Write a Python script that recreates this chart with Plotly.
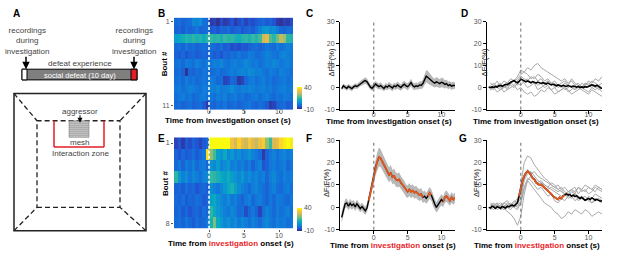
import numpy as np
import plotly.graph_objects as go

# ---------------- data ----------------
hm_time = np.arange(-4.75, 12.0, 0.5)        # heatmap bin centres (s), 34 bins
trace_time = np.arange(-4.75, 12.01, 0.25)   # mean traces, 68 samples
indiv_time = np.arange(-4.5, 12.01, 0.5)     # individual bouts, 34 samples

# Heatmap B (no-defeat, 11 bouts); each row: 10 pre-onset bins + 24 post-onset bins
heat_B = [
    [-2,-1,-3,-2,-1,3,2,4,-1,-2,  -8,-7,-9,-6,-8,-7,-5,-8,-6,-4, -7,-5,-6,-4,-3,-2,-4,-3,-5,-8, -9,-7,-8,-6],
    [-3,-2,-4,-1,-3,-2,0,-3,-2,-1, -4,-3,-5,-2,-3,-1,-4,-3,-2,-5, -3,-2,-4,-1,2,5,6,3,4,1, -2,-3,-1,-2],
    [8,9,11,13,12,14,12,13,11,14,  15,13,14,12,15,13,14,12,11,13, 14,12,15,13,16,27,29,17,14,19, 26,23,14,13],
    [-2,-1,-3,0,-2,-1,-3,-2,-1,-2, -1,-2,-3,-1,-4,-3,-6,-5,-6,-4, -5,-3,-2,-1,-3,-2,0,-1,-2,1, -1,0,2,1],
    [-3,-4,-2,-5,-3,-2,-4,-3,-2,-3, -2,-4,-3,-5,-2,-3,-1,-2,0,-2, -1,1,0,-2,-1,0,2,1,0,-1, 2,3,1,0],
    [-1,0,-2,1,0,-1,2,0,-1,1,     0,2,1,3,0,-1,1,2,0,1, 3,2,0,1,-1,0,2,1,3,2, 0,1,2,0],
    [-2,-1,-3,-9,-2,-3,-1,-2,0,-1, -2,-1,0,-2,-1,0,1,0,2,3, 2,4,3,1,2,0,-1,1,0,-1, 2,1,0,-1],
    [-1,0,-2,1,-1,0,-2,-1,0,-1,   1,0,-2,-1,-7,-6,-2,-3,-8,-7, -2,0,1,-1,0,2,-1,0,-2,-1, 0,1,-1,0],
    [0,1,-1,0,2,1,0,-1,1,0,       2,1,3,0,1,2,4,1,0,2, 1,3,2,0,1,2,0,1,-1,0, 1,2,0,1],
    [-1,0,1,-1,0,-2,-1,0,1,-1,    0,-1,1,0,2,-1,0,1,-1,0, -2,-1,0,1,-1,0,1,-1,-2,0, -1,1,0,-1],
    [-2,-1,-3,-2,-1,-3,-2,-1,-4,-8, -2,-3,-1,-2,0,-3,-2,-1,-3,-2, -1,0,-2,-3,-1,-2,-4,-8,-7,-3, -2,-1,-4,-3],
]
# Heatmap E (defeat, 8 bouts)
heat_E = [
    [-7,-5,-8,-4,-6,-3,-5,-7,-4,-2, 40,40,40,40,40,40,32,28,35,30, 27,33,29,26,31,34,22,15,28,30, 36,38,40,38],
    [-3,-5,-2,-4,-3,-1,-4,-2,0,36,  22,16,8,5,10,3,6,2,4,1, 3,5,2,0,-2,-8,-3,0,2,-1, 1,3,0,2],
    [-2,0,-3,1,-1,2,-2,0,1,-3,      5,3,7,2,4,6,1,3,0,2, -1,1,-3,0,2,-5,-3,0,1,-1, 0,2,-2,0],
    [14,6,2,4,0,3,1,-1,2,3,         15,14,12,10,8,11,7,5,3,6, 2,4,1,3,0,2,-2,1,3,0, -1,2,0,1],
    [-3,-2,-4,-1,-3,-2,-5,-3,-2,-4, 4,2,0,3,6,10,12,8,4,2, 0,-2,1,3,0,-1,-3,0,2,-1, -2,0,1,-1],
    [-2,-3,-1,-4,-2,-3,-1,-2,-4,-3, 8,10,5,3,1,4,0,2,-1,-3, 0,2,-2,0,1,-1,-3,0,-2,1, 0,-1,-2,0],
    [-3,-1,-4,-2,-5,-3,-2,-4,-1,-3, 14,10,6,4,2,0,3,1,-2,-1, -6,-2,0,-3,-7,-1,2,0,-2,1, -1,0,2,-1],
    [-2,-1,-3,0,-2,-4,-1,-3,-2,0,   12,20,10,6,3,5,2,4,0,3, 1,-1,2,0,-2,1,3,0,-1,2, 0,1,-1,0],
]
bout_ticks_B = [1, 11]
bout_ticks_E = [1, 8]

# C: mean +/- SEM (no defeat)
C_mean = [-0.5,0.8,0.2,-0.3, 0.5,0.0,-0.5,0.3, 0.8,0.5,1.2,1.8, 2.2,2.8,3.2,2.6,
          1.5,0.2,-0.3,0.8, 1.6,1.0,0.4,0.9, 0.3,-0.4,0.6,0.2, 1.0,0.3,-0.2,0.8,
          0.4,1.2,0.5,0.0, 0.9,1.5,0.8,0.4, 1.2,2.3,0.9,0.3, 0.8,0.5,1.2,1.0,
          1.8,3.5,5.2,4.6, 3.8,3.0,2.5,2.0, 2.6,2.2,1.8,2.4, 2.1,1.4,1.8,0.9, 1.3,0.6,1.0,0.8]
C_sem = [1.0,1.1,1.0,1.2, 1.1,1.0,1.2,1.1, 1.2,1.1,1.3,1.2, 1.3,1.4,1.5,1.4,
         1.3,1.2,1.3,1.5, 1.4,1.3,1.4,1.5, 1.4,1.3,1.5,1.4, 1.5,1.4,1.5,1.4,
         1.5,1.6,1.5,1.4, 1.5,1.6,1.5,1.6, 1.6,1.7,1.6,1.5, 1.6,1.5,1.7,1.8,
         2.0,2.4,2.8,2.9, 2.6,2.3,2.1,2.0, 2.2,2.1,2.0,2.2, 2.1,1.9,1.8,1.7, 1.6,1.7,1.6,1.5]

# D: individual animals + mean (no defeat)
D_mean = [0.2,0.0,0.3,0.1, 0.5,0.2,0.8,1.0, 0.6,1.2,1.5,1.3, 2.0,2.4,2.8,3.2,
          2.6,2.2,2.8,3.8, 3.5,3.0,2.6,3.0, 2.4,2.2,2.7,2.3, 2.0,2.5,2.2,1.9,
          2.2,1.8,1.6,2.0, 1.5,1.2,1.6,1.0, 0.8,1.2,0.9,0.6, 1.0,0.7,0.5,0.9,
          0.6,0.3,0.7,0.4, 0.2,0.5,0.1,0.3, 0.0,0.4,0.2,0.5, 0.8,1.2,1.0,0.6, 1.1,0.4,0.0,-0.5]
D_bouts = [
    [-1,0,1,2,0,1,2,3,4,6,  7,9,8,10,11,9,8,7,6,5, 4,3,4,2,3,1,2,0,1,2, 1,0,1,0],
    [1,2,0,1,3,2,4,3,5,8,   7,6,4,5,3,4,2,3,1,2, 0,1,-1,0,1,-1,0,2,1,3, 2,4,3,5],
    [0,-1,1,0,-2,-1,0,1,-1,0, -2,-3,-2,-4,-3,-1,-2,0,-1,-3, -2,-1,0,-2,-1,1,0,-1,-2,-3, -1,-2,-3,-4],
    [2,1,3,0,1,-1,2,3,1,4,  2,0,1,2,-1,0,1,3,2,0, 1,2,3,1,4,2,1,0,2,1, 0,1,-1,0],
    [-1,0,-2,-1,1,0,2,1,3,5, 4,3,5,4,6,5,3,4,2,3, 1,0,2,1,0,-1,1,0,2,1, 3,2,1,2],
    [0,1,0,-1,0,2,1,0,2,1,  3,4,2,3,1,2,0,1,-1,0, -2,-1,0,-1,-3,-2,-1,0,-1,-2, 0,-1,0,-2],
]

# F: mean +/- SEM (after defeat), significant segments in orange
F_mean = [-4.5,-1.0,1.5,2.0, 0.5,1.8,0.8,1.5, 0.2,1.6,0.5,-0.5, 0.4,-0.8,-1.5,-0.2,
          3.0,6.5,10.0,14.0, 18.0,20.5,22.5,22.0, 20.5,19.0,17.5,16.0, 14.5,15.5,13.5,14.0,
          12.5,12.0,12.5,11.0, 10.0,9.0,7.5,7.0, 8.0,7.0,7.5,6.5, 7.0,6.0,5.5,6.0,
          4.5,5.0,4.0,5.0, 6.5,5.5,3.0,1.5, 0.0,1.0,2.5,3.5, 2.5,4.5,5.0,4.0, 3.0,4.5,3.5,4.5]
F_sem = [2.5,2.2,2.0,2.0, 1.8,2.0,1.9,1.8, 1.8,1.9,1.8,1.7, 1.7,1.8,1.8,1.9,
         2.2,2.6,3.0,3.5, 3.8,4.0,4.2,4.0, 3.8,3.6,3.5,3.4, 3.3,3.4,3.2,3.3,
         3.2,3.1,3.2,3.0, 3.0,2.9,2.8,2.8, 2.9,2.8,2.8,2.7, 2.7,2.6,2.6,2.6,
         2.5,2.5,2.4,2.5, 2.6,2.5,2.4,2.4, 2.3,2.4,2.4,2.5, 2.4,2.5,2.5,2.4, 2.3,2.4,2.3,2.3]
F_sig = [(-0.75, 7.25), (8.0, 8.5), (10.25, 12.0)]

# G: individual animals + mean (after defeat)
G_mean = [0.0,-0.3,0.5,0.2, -0.5,0.3,0.0,-0.4, 0.4,0.1,-0.3,0.5, 0.2,0.8,1.0,0.6,
          1.5,2.0,5.0,9.0, 12.0,14.0,15.5,16.0, 15.5,14.5,13.0,12.5, 11.0,10.5,10.0,10.2,
          9.5,9.0,8.0,7.5, 6.5,6.0,5.0,4.5, 4.0,3.5,4.5,4.0, 5.0,5.5,6.0,5.5,
          5.8,5.0,5.5,4.8, 5.2,4.5,4.0,4.5, 3.8,3.2,3.5,4.0, 3.5,4.2,3.8,3.2, 3.6,3.0,2.8,3.0]
G_bouts = [
    [0,1,-1,0,2,1,0,1,3,10,  20,23,22,19,17,15,13,12,10,9, 8,7,6,5,7,6,5,4,3,5, 4,6,5,4],
    [1,0,2,-1,0,-2,-3,-5,-8,-4, 6,12,14,12,10,11,9,8,9,8, 7,8,6,7,8,6,9,7,8,6, 7,9,8,7],
    [0,-1,1,0,-1,0,1,0,-1,2, 8,12,10,8,6,4,2,1,0,-2, -3,-5,-4,-2,-3,-1,-2,-3,-1,-2, -4,-3,-2,-3],
    [1,2,0,1,0,2,1,3,2,4,    14,17,15,16,14,13,12,11,10,9, 10,8,9,7,8,9,6,8,7,9, 8,7,9,8],
    [-1,0,1,2,1,0,-1,1,0,3,  12,15,16,14,12,11,10,9,8,7, 6,5,6,4,5,3,4,5,3,4, 2,3,4,3],
    [2,1,0,1,2,3,1,2,4,6,    13,16,14,13,11,12,10,9,11,10, 8,9,7,6,8,7,9,8,10,9, 8,10,9,8],
    [0,1,2,0,-1,1,2,0,1,2,   9,13,12,10,8,9,7,5,6,3, 2,4,3,5,4,6,3,4,5,3, 2,4,3,2],
]
G_sig = [(-0.25, 6.5)]

x_ticks = [0, 5, 10]
y_ticks = [-10, 0, 10, 20, 30]
cbar_ticks = [-10, 40]

for row in heat_B + heat_E:
    assert len(row) == len(hm_time), len(row)
for arr in (C_mean, C_sem, D_mean, F_mean, F_sem, G_mean):
    assert len(arr) == len(trace_time), len(arr)
for row in D_bouts + G_bouts:
    assert len(row) == len(indiv_time), len(row)

# ---------------- styling ----------------
W, H = 617, 260
def X(p):
    return p / W
def Y(p):
    return 1 - p / H

FONT = "Liberation Sans, Arial, sans-serif"
TICKC = "#555555"
TXT = "#444444"
RED = "#e8262b"
ORANGE = "#e2571e"
GRAYLINE = "#a9a9a9"
parula = [[0.0, "#352a87"], [6/63, "#2053d4"], [13/63, "#1079da"], [19/63, "#0c93d2"],
          [25/63, "#07a9c2"], [32/63, "#38b99e"], [38/63, "#7cbf7b"], [44/63, "#b7bd64"],
          [50/63, "#e9b94e"], [57/63, "#f9d329"], [1.0, "#f9fb0e"]]

fig = go.Figure()

def heat(z, ax, cb_top, cb_bot):
    nrows = len(z)
    fig.add_trace(go.Heatmap(
        x=hm_time, y=list(range(1, nrows + 1)), z=z, xaxis=ax[0], yaxis=ax[1],
        colorscale=parula, zmin=-10, zmax=40,
        colorbar=dict(x=X(297), xanchor="left", y=Y((cb_top + cb_bot) / 2), yanchor="middle",
                      lenmode="pixels", len=cb_bot - cb_top, thickness=5, thicknessmode="pixels",
                      xpad=0, ypad=0, outlinewidth=0, ticks="",
                      tickvals=cbar_ticks, ticktext=[str(v) for v in cbar_ticks],
                      tickfont=dict(size=7, color=TICKC, family=FONT)),
        hoverinfo="skip"))

heat(heat_B, ("x", "y"), 86, 108)
heat(heat_E, ("x2", "y2"), 210, 233)

def band(mean, sem, ax):
    m = np.array(mean); s = np.array(sem)
    xs = np.concatenate([trace_time, trace_time[::-1]])
    ys = np.concatenate([m + s, (m - s)[::-1]])
    fig.add_trace(go.Scatter(x=xs, y=ys, fill="toself", fillcolor="#b8b8b8", line=dict(width=0),
                             mode="lines", xaxis=ax[0], yaxis=ax[1], hoverinfo="skip"))

def line(x, y, ax, color, width):
    fig.add_trace(go.Scatter(x=x, y=y, mode="lines", line=dict(color=color, width=width),
                             xaxis=ax[0], yaxis=ax[1], hoverinfo="skip"))

def sig_overlay(mean, segs, ax):
    t = trace_time
    mask = np.zeros(len(t), dtype=bool)
    for a, b in segs:
        mask |= (t >= a - 1e-9) & (t <= b + 1e-9)
    y = [v if k else None for v, k in zip(mean, mask)]
    line(t, y, ax, ORANGE, 1.8)

# C
band(C_mean, C_sem, ("x3", "y3"))
line(trace_time, C_mean, ("x3", "y3"), "black", 1.4)
# D
for b in D_bouts:
    line(indiv_time, b, ("x4", "y4"), GRAYLINE, 1.0)
line(trace_time, D_mean, ("x4", "y4"), "black", 1.6)
# F
band(F_mean, F_sem, ("x5", "y5"))
line(trace_time, F_mean, ("x5", "y5"), "black", 1.4)
sig_overlay(F_mean, F_sig, ("x5", "y5"))
# G
for b in G_bouts:
    line(indiv_time, b, ("x6", "y6"), GRAYLINE, 1.0)
line(trace_time, G_mean, ("x6", "y6"), "black", 1.6)
sig_overlay(G_mean, G_sig, ("x6", "y6"))

# ---------------- axes ----------------
tickfont = dict(size=7, color=TICKC, family=FONT)
def hm_axes(n, xdom, ydom, yticks, nrows, standoff):
    sx = "" if n == 1 else str(n)
    xa = dict(domain=xdom, range=[-5, 12], anchor="y" + sx, tickvals=x_ticks, ticks="outside",
              ticklen=2, tickcolor="#555", showline=False, showgrid=False, zeroline=False,
              tickfont=tickfont, fixedrange=True, ticklabelstandoff=standoff)
    ya = dict(domain=ydom, range=[nrows + 0.5, 0.5], anchor="x" + sx, tickvals=yticks, ticks="outside",
              ticklen=2, tickcolor="#555", showline=False, showgrid=False, zeroline=False,
              tickfont=tickfont, fixedrange=True)
    return xa, ya

def ln_axes(n, xdom, ydom, standoff):
    sx = str(n)
    common = dict(ticks="outside", ticklen=3, tickwidth=1, tickcolor="black", showline=True,
                  linecolor="black", linewidth=1, showgrid=False, zeroline=False,
                  tickfont=tickfont, fixedrange=True)
    xa = dict(domain=xdom, range=[-5, 12], anchor="y" + sx, tickvals=x_ticks,
              ticklabelstandoff=standoff, **common)
    ya = dict(domain=ydom, range=[-10, 30], anchor="x" + sx, tickvals=y_ticks,
              ticktext=[str(v) for v in y_ticks], **common)
    return xa, ya

xB, yB = hm_axes(1, [X(174), X(293)], [Y(109), Y(14)], bout_ticks_B, len(heat_B), -7)
xE, yE = hm_axes(2, [X(174), X(293)], [Y(231), Y(137)], bout_ticks_E, len(heat_E), -2)
xC, yC = ln_axes(3, [X(340), X(455)], [Y(108.5), Y(18)], -5)
xD, yD = ln_axes(4, [X(487), X(602)], [Y(108.5), Y(18)], -5)
xF, yF = ln_axes(5, [X(340), X(455)], [Y(232), Y(140)], -2)
xG, yG = ln_axes(6, [X(487), X(602)], [Y(232), Y(140)], -2)

shapes = []
# white dashed onset lines on heatmaps
for ax in ("x", "x2"):
    yref = ("y" if ax == "x" else "y2") + " domain"
    shapes.append(dict(type="line", xref=ax, yref=yref, x0=0, x1=0, y0=0, y1=1,
                       line=dict(color="white", width=1.5, dash="3px,2px")))
# dotted onset lines on trace plots
for n in (3, 4, 5, 6):
    shapes.append(dict(type="line", xref="x%d" % n, yref="y%d domain" % n, x0=0, x1=0, y0=0, y1=1,
                       line=dict(color="#666666", width=1, dash="dot")))

def rect(x0, y0, x1, y1, **kw):
    shapes.append(dict(type="rect", xref="paper", yref="paper", x0=X(x0), x1=X(x1),
                       y0=Y(y1), y1=Y(y0), **kw))
def seg(x0, y0, x1, y1, **kw):
    shapes.append(dict(type="line", xref="paper", yref="paper", x0=X(x0), x1=X(x1),
                       y0=Y(y0), y1=Y(y1), **kw))

# panel A: timeline bar
rect(22, 67, 137, 78, fillcolor="#7f7f7f", line=dict(color="black", width=1))
rect(22, 67, 27, 78, fillcolor="white", line=dict(color="black", width=1))
rect(131, 67, 137, 78, fillcolor="#e41e26", line=dict(color="black", width=1))
# arena
rect(14, 92, 146, 233, line=dict(color="#222", width=1.5))
dl = dict(color="#222", width=1.3, dash="5px,3px")
rect(37, 120, 120, 209, line=dl)
seg(14, 92, 37, 120, line=dl)
seg(146, 92, 120, 120, line=dl)
seg(14, 233, 37, 209, line=dl)
seg(146, 233, 120, 209, line=dl)
rl = dict(color="#e41e26", width=1.5)
seg(54, 120, 54, 147, line=rl)
seg(54, 147, 104, 147, line=rl)
seg(104, 147, 104, 120, line=rl)
rect(69, 120, 89, 137, fillcolor="#9c9c9c", line=dict(color="#777", width=0.5))
for gx in range(71, 89, 2):
    seg(gx, 120, gx, 137, line=dict(color="#d8d8d8", width=0.5))
for gy in range(122, 137, 2):
    seg(69, gy, 89, gy, line=dict(color="#d8d8d8", width=0.5))

ann = []
def text(s, x, y, size=8, color=TXT, bold=False, angle=0, xanchor="center"):
    ann.append(dict(text=("<b>%s</b>" % s) if bold else s, x=X(x), y=Y(y), xref="paper",
                    yref="paper", showarrow=False, xanchor=xanchor, yanchor="middle",
                    textangle=angle, font=dict(size=size, color=color, family=FONT)))
def arrow(x, y_tail, y_head, width=1.5):
    ann.append(dict(text="", x=X(x), y=Y(y_head), xref="paper", yref="paper", showarrow=True,
                    ax=0, ay=-(y_head - y_tail), arrowhead=2, arrowsize=1, arrowwidth=width,
                    arrowcolor="black"))

for s, x, y in [("A", 16, 10), ("B", 161, 10), ("C", 309, 10), ("D", 464, 10),
                ("E", 161, 138), ("F", 309, 138), ("G", 463, 138)]:
    text(s, x, y, size=10, color="black", bold=True)

text("recordings<br>during<br>investigation", 27, 38, size=8)
text("recordings<br>during<br>investigation", 134, 38, size=8)
arrow(26, 53, 67)
arrow(134, 53, 67)
text("defeat experience", 80, 61, size=8)
text("social defeat (10 day)", 80, 73, size=7.5, color="white")
text("aggressor", 80, 110, size=8)
arrow(80, 113, 122, width=1)
text("mesh", 80, 142, size=8)
text("Interaction zone", 80, 154, size=8)

t_plain = "Time from investigation onset (s)"
t_red = "Time from <span style='color:%s'>investigation</span> onset (s)" % RED
text(t_plain, 228.5, 120, size=8, color="black", bold=True)
text(t_plain, 389, 121, size=8, color="black", bold=True)
text(t_plain, 536, 121, size=8, color="black", bold=True)
text(t_red, 231, 246, size=8, color="black", bold=True)
text(t_red, 393, 248.5, size=8, color="black", bold=True)
text(t_red, 537, 248.5, size=8, color="black", bold=True)
text("Bout #", 164, 62, size=8, color="black", bold=True, angle=-90)
text("Bout #", 165, 184, size=8, color="black", bold=True, angle=-90)
for x, y in [(331, 60), (484, 60), (326, 184), (476, 184)]:
    text("ΔF/F(%)", x, y, size=7.5, color="#222", angle=-90)

fig.update_layout(
    width=W, height=H, margin=dict(l=0, r=0, t=0, b=0),
    paper_bgcolor="white", plot_bgcolor="white", showlegend=False,
    font=dict(family=FONT),
    xaxis=xB, yaxis=yB, xaxis2=xE, yaxis2=yE, xaxis3=xC, yaxis3=yC,
    xaxis4=xD, yaxis4=yD, xaxis5=xF, yaxis5=yF, xaxis6=xG, yaxis6=yG,
    shapes=shapes, annotations=ann,
)
fig.write_html("out.html", config={"displayModeBar": False},
               post_script="document.body.style.margin='0';document.body.style.overflow='hidden';")
